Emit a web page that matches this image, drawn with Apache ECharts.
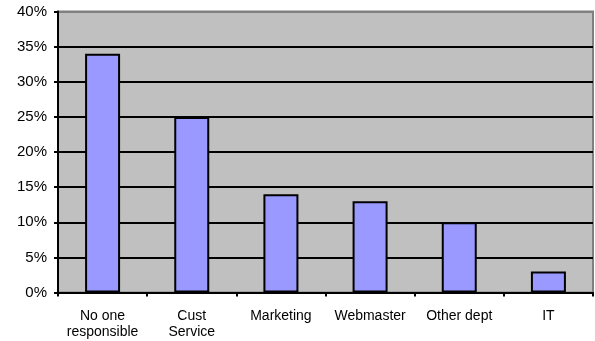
<!DOCTYPE html>
<html>
<head>
<meta charset="utf-8">
<script src="https://cdn.jsdelivr.net/npm/echarts@6/dist/echarts.min.js"></script>
<style>
  html, body { margin: 0; padding: 0; background: #ffffff; }
  #chart { width: 595px; height: 341px; }
</style>
</head>
<body>
<div id="chart"></div>
<script>
// Who is responsible for the website — share of respondents
const categories = ['No one\nresponsible', 'Cust\nService', 'Marketing', 'Webmaster', 'Other dept', 'IT'];
const shares = [34, 25, 14, 13, 10, 3];
const yTicks = { min: 0, max: 40, interval: 5 };

const chart = echarts.init(document.getElementById('chart'), null, { renderer: 'canvas' });
const font = 'Liberation Sans, Arial, sans-serif';

// Gridlines are black except the top one, which is part of the grey frame
const splitColors = [];
for (let v = yTicks.min; v <= yTicks.max; v += yTicks.interval) {
  splitColors.push(v === yTicks.max ? '#808080' : '#000000');
}

chart.setOption({
  animation: false,
  backgroundColor: '#ffffff',
  grid: {
    left: 58, right: 2, top: 11.5, bottom: 48.5,
    show: true,
    backgroundColor: '#c0c0c0',
    borderColor: '#808080',
    borderWidth: 2
  },
  xAxis: {
    type: 'category',
    data: categories,
    boundaryGap: true,
    axisLine: { lineStyle: { color: '#000', width: 2 } },
    axisTick: { show: true, length: 4, inside: false, lineStyle: { color: '#000', width: 2 } },
    axisLabel: { color: '#000', fontFamily: font, fontSize: 14, lineHeight: 16, margin: 16, interval: 0 }
  },
  yAxis: {
    type: 'value',
    min: yTicks.min, max: yTicks.max, interval: yTicks.interval,
    axisLine: { show: true, lineStyle: { color: '#000', width: 2 } },
    axisTick: { show: true, length: 4, lineStyle: { color: '#000', width: 2 } },
    axisLabel: { color: '#000', fontFamily: font, fontSize: 15, margin: 11, formatter: '{value}%' },
    splitLine: { show: true, lineStyle: { color: splitColors, width: 2 } }
  },
  series: [{
    type: 'bar',
    data: shares,
    barWidth: 35,
    itemStyle: { color: '#9999ff', borderColor: '#000', borderWidth: 2 }
  }]
});
</script>
</body>
</html>
